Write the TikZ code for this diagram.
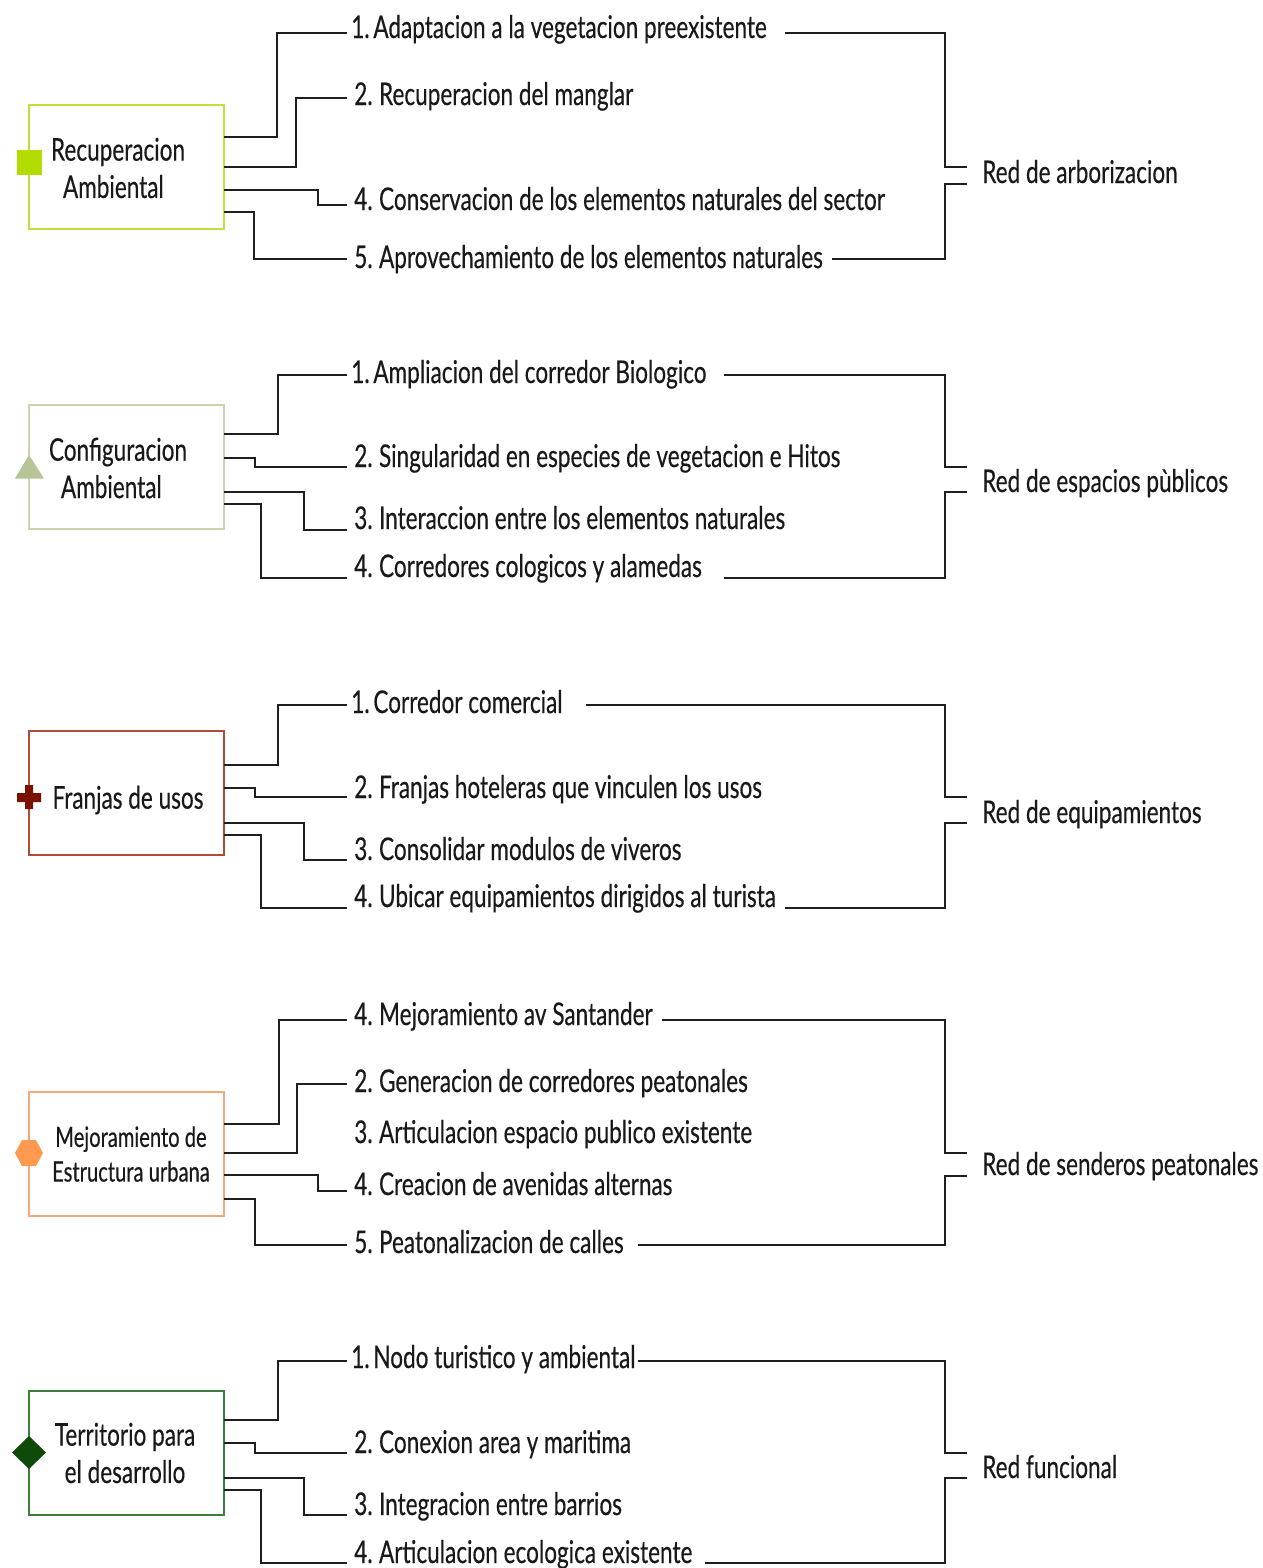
\documentclass[tikz,border=0pt]{standalone}
\usepackage{fontspec}
\setmainfont[FakeStretch=0.72,FakeBold=0.35]{Lato}
\newcommand{\onestart}{\kern-2.25pt}
\newcommand{\onegap}{\kern-3pt}
\newcommand{\numgap}{\kern-1pt}
\tikzset{
  link/.style={draw=black!88,line width=1.4pt,line join=miter},
  box/.style={draw=#1,line width=1.2pt,fill=none,minimum width=146.25pt,minimum height=93pt,inner sep=0pt,outer sep=0pt,anchor=north west},
  item/.style={anchor=base west,inner xsep=5.25pt,inner ysep=0pt,font=\fontsize{23.5}{28}\selectfont,text=black!90},
  net/.style={anchor=base west,inner xsep=11.25pt,inner ysep=0pt,font=\fontsize{23.5}{28}\selectfont,text=black!90},
  lab/.style={anchor=center,align=left,inner sep=0pt,font=\fontsize{23.5}{28}\selectfont,text=black!90},
}
\definecolor{cA}{HTML}{BFE03A}\definecolor{mA}{HTML}{B5DC00}
\definecolor{cB}{HTML}{C9D3AE}\definecolor{mB}{HTML}{B5C598}
\definecolor{cC}{HTML}{B04A3A}\definecolor{mC}{HTML}{7B1200}
\definecolor{cD}{HTML}{F5A878}\definecolor{mD}{HTML}{FF9A50}
\definecolor{cE}{HTML}{3E7D3A}\definecolor{mE}{HTML}{0F4A0A}
\begin{document}
\begin{tikzpicture}[x=0.75pt,y=-0.75pt]
\useasboundingbox (0,0) rectangle (1263,1568);
% ---------- group 1
\node[box=cA] (B1) at (29,105) {};
\fill[mA] (17,150) rectangle (42,175);
\node[lab] (L1) at (118,168) {Recuperacion\\[0pt]\hspace*{9pt}Ambiental};
\node[item] (T11) at (347,38) {\onestart 1.\onegap{} Adaptacion a la vegetacion preexistente};
\node[item] (T12) at (347,105) {2.\numgap{} Recuperacion del manglar};
\node[item] (T13) at (347,210) {4.\numgap{} Conservacion de los elementos naturales del sector};
\node[item] (T14) at (347,268) {5.\numgap{} Aprovechamiento de los elementos naturales};
\node[net] (R1) at (967,183) {Red de arborizacion};
\coordinate (r11) at (785,33);
\coordinate (r14) at (832,259);
\draw[link] (B1.east |- 0,137) -| (277,33) -- (T11.west |- 0,33);
\draw[link] (B1.east |- 0,167) -| (296,98) -- (T12.west |- 0,98);
\draw[link] (B1.east |- 0,190) -| (318,205) -- (T13.west |- 0,205);
\draw[link] (B1.east |- 0,212) -| (254,259) -- (T14.west |- 0,259);
\draw[link] (r11) -| (945,167) -- (R1.west |- 0,167);
\draw[link] (r14) -| (945,184) -- (R1.west |- 0,184);
% ---------- group 2
\node[box=cB] (B2) at (29,405) {};
\fill[mB] (29,455) -- (44,478.5) -- (15,478.5) -- cycle;
\node[lab] (L2) at (118,468) {Configuracion\\[0pt]\hspace*{9pt}Ambiental};
\node[item] (T21) at (347,383) {\onestart 1.\onegap{} Ampliacion del corredor Biologico};
\node[item] (T22) at (347,467) {2.\numgap{} Singularidad en especies de vegetacion e Hitos};
\node[item] (T23) at (347,529) {3.\numgap{} Interaccion entre los elementos naturales};
\node[item] (T24) at (347,577) {4.\numgap{} Corredores cologicos y alamedas};
\node[net] (R2) at (967,492) {Red de espacios pùblicos};
\coordinate (r21) at (724,375);
\coordinate (r24) at (724,578);
\draw[link] (B2.east |- 0,434) -| (278,375) -- (T21.west |- 0,375);
\draw[link] (B2.east |- 0,458) -| (255,467) -- (T22.west |- 0,467);
\draw[link] (B2.east |- 0,492) -| (304,530) -- (T23.west |- 0,530);
\draw[link] (B2.east |- 0,504) -| (261,578) -- (T24.west |- 0,578);
\draw[link] (r21) -| (945,467) -- (R2.west |- 0,467);
\draw[link] (r24) -| (945,492) -- (R2.west |- 0,492);
% ---------- group 3
\node[box=cC] (B3) at (29,731) {};
\fill[mC] (25,785) -- (33,785) -- (33,793) -- (41,793) -- (41,802) -- (33,802) -- (33,809) -- (25,809) -- (25,802) -- (17,802) -- (17,793) -- (25,793) -- cycle;
\node[lab] (L3) at (128,800) {Franjas de usos};
\node[item] (T31) at (347,713) {\onestart 1.\onegap{} Corredor comercial};
\node[item] (T32) at (347,798) {2.\numgap{} Franjas hoteleras que vinculen los usos};
\node[item] (T33) at (347,860) {3.\numgap{} Consolidar modulos de viveros};
\node[item] (T34) at (347,907) {4.\numgap{} Ubicar equipamientos dirigidos al turista};
\node[net] (R3) at (967,823) {Red de equipamientos};
\coordinate (r31) at (586,705);
\coordinate (r34) at (785,908);
\draw[link] (B3.east |- 0,765) -| (278,705) -- (T31.west |- 0,705);
\draw[link] (B3.east |- 0,788) -| (255,797) -- (T32.west |- 0,797);
\draw[link] (B3.east |- 0,823) -| (304,860) -- (T33.west |- 0,860);
\draw[link] (B3.east |- 0,835) -| (261,908) -- (T34.west |- 0,908);
\draw[link] (r31) -| (945,797) -- (R3.west |- 0,797);
\draw[link] (r34) -| (945,823) -- (R3.west |- 0,823);
% ---------- group 4
\node[box=cD] (B4) at (29,1092) {};
\fill[mD] (22,1140) -- (36,1140) -- (43,1153) -- (36,1166) -- (22,1166) -- (15,1153) -- cycle;
\node[lab,align=center,font=\fontsize{21}{26}\selectfont] (L4) at (131,1154) {Mejoramiento de\\Estructura urbana};
\node[item] (T41) at (347,1025) {4.\numgap{} Mejoramiento av Santander};
\node[item] (T42) at (347,1092) {2.\numgap{} Generacion de corredores peatonales};
\node[item] (T43) at (347,1143) {3.\numgap{} Articulacion espacio publico existente};
\node[item] (T44) at (347,1195) {4.\numgap{} Creacion de avenidas alternas};
\node[item] (T45) at (347,1253) {5.\numgap{} Peatonalizacion de calles};
\node[net] (R4) at (967,1175) {Red de senderos peatonales};
\coordinate (r41) at (662,1020);
\coordinate (r45) at (638,1245);
\draw[link] (B4.east |- 0,1124) -| (279,1020) -- (T41.west |- 0,1020);
\draw[link] (B4.east |- 0,1153) -| (297,1084) -- (T42.west |- 0,1084);
\draw[link] (B4.east |- 0,1175) -| (318,1191) -- (T44.west |- 0,1191);
\draw[link] (B4.east |- 0,1199) -| (255,1245) -- (T45.west |- 0,1245);
\draw[link] (r41) -| (945,1153) -- (R4.west |- 0,1153);
\draw[link] (r45) -| (945,1176) -- (R4.west |- 0,1176);
% ---------- group 5
\node[box=cE] (B5) at (29,1391) {};
\fill[mE] (29,1436) -- (46,1452.5) -- (29,1469) -- (12,1452.5) -- cycle;
\node[lab,align=center] (L5) at (125,1453) {Territorio para\\el desarrollo};
\node[item] (T51) at (347,1368) {\onestart 1.\onegap{} Nodo turistico y ambiental};
\node[item] (T52) at (347,1453) {2.\numgap{} Conexion area y maritima};
\node[item] (T53) at (347,1515) {3.\numgap{} Integracion entre barrios};
\node[item] (T54) at (347,1563) {4.\numgap{} Articulacion ecologica existente};
\node[net] (R5) at (967,1478) {Red funcional};
\coordinate (r51) at (638,1361);
\coordinate (r54) at (705,1563);
\draw[link] (B5.east |- 0,1420) -| (278,1361) -- (T51.west |- 0,1361);
\draw[link] (B5.east |- 0,1443) -| (255,1453) -- (T52.west |- 0,1453);
\draw[link] (B5.east |- 0,1478) -| (304,1515) -- (T53.west |- 0,1515);
\draw[link] (B5.east |- 0,1490) -| (261,1563) -- (T54.west |- 0,1563);
\draw[link] (r51) -| (945,1453) -- (R5.west |- 0,1453);
\draw[link] (r54) -| (945,1478) -- (R5.west |- 0,1478);
\end{tikzpicture}
\end{document}
